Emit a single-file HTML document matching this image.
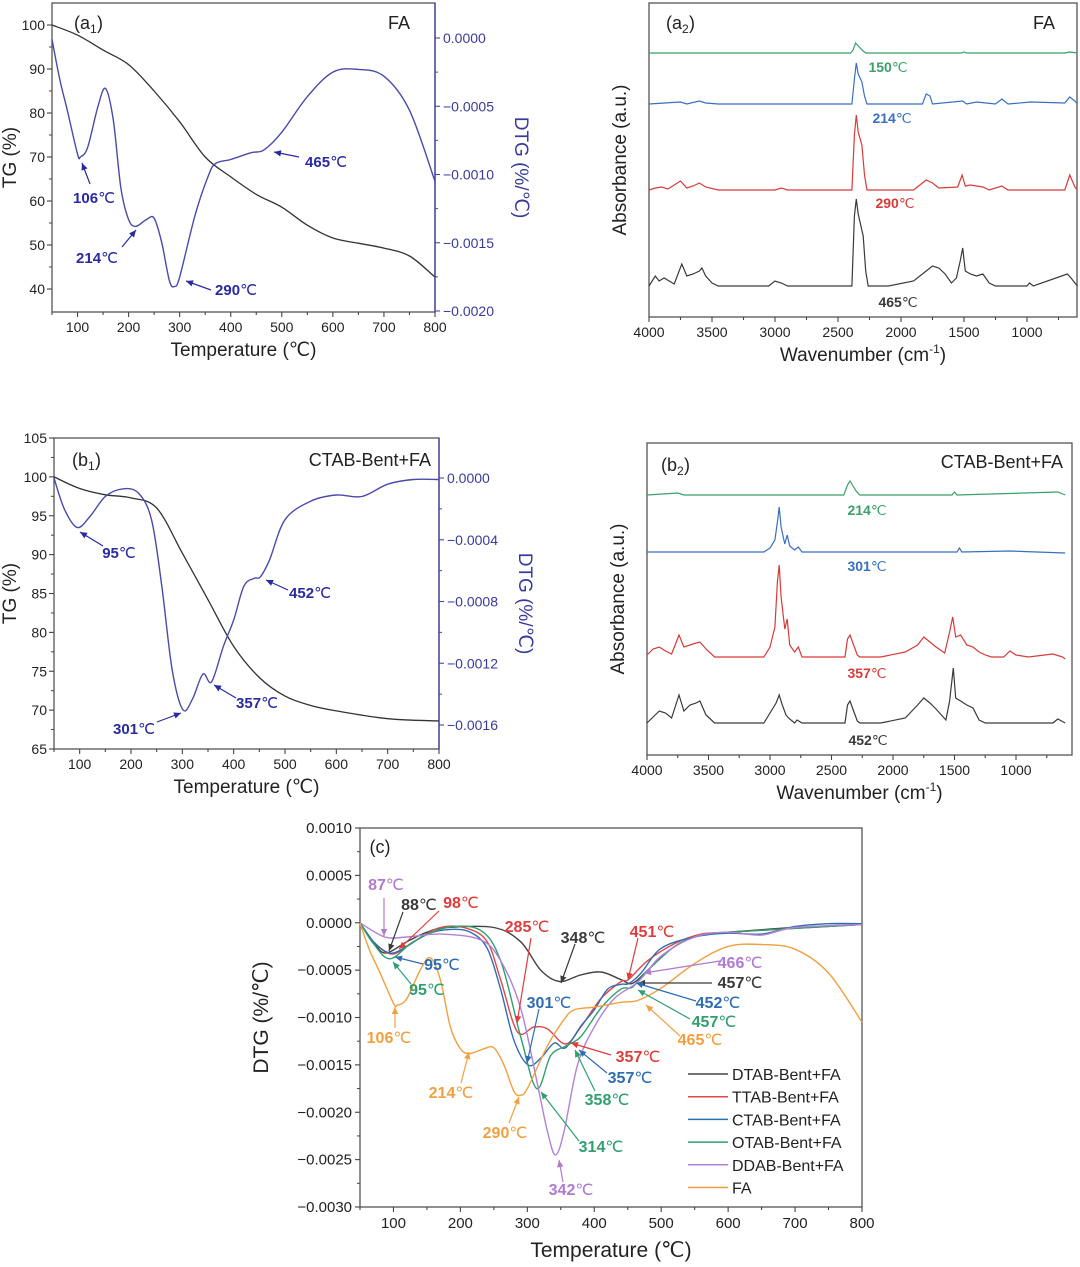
<!DOCTYPE html>
<html><head><meta charset="utf-8">
<style>
html,body{margin:0;padding:0;background:#fff;}
svg{display:block;font-family:"Liberation Sans",sans-serif;}
</style></head>
<body>
<svg id="fig" width="1080" height="1267" viewBox="0 0 1080 1267" xmlns="http://www.w3.org/2000/svg"></svg>
<script>
// ---------- DATA ----------
const a1Temp = [50,100,150,200,250,300,350,400,450,500,550,600,650,700,750,800];
const a1TG   = [100,97.7,94.3,91,85,78,70,65.5,61.5,58.6,54.5,51.6,50.4,49.3,47.5,42.7];
const a1DtgT = [50,65,80,100,106,120,140,155,170,185,200,214,235,250,265,280,290,300,330,355,370,400,440,465,500,550,600,650,700,750,800];
const a1Dtg  = [-0.00001,-0.0003,-0.00053,-0.00085,-0.00087,-0.0008,-0.0005,-0.00037,-0.0006,-0.0011,-0.00133,-0.00138,-0.00133,-0.00132,-0.0015,-0.00178,-0.00182,-0.00175,-0.0013,-0.00102,-0.00092,-0.00089,-0.00084,-0.00082,-0.00069,-0.00043,-0.00025,-0.00023,-0.00028,-0.00053,-0.00105];

const b1Temp = [50,100,150,200,250,300,350,400,450,500,550,600,700,800];
const b1TG   = [100,98.5,97.7,97.3,96,90.2,84.2,78.2,74.2,71.8,70.6,69.9,68.9,68.6];
const b1DtgT = [50,70,95,120,150,185,215,240,260,280,301,320,340,357,380,400,420,440,452,470,500,550,600,650,700,750,800];
const b1Dtg  = [0,-0.0002,-0.00032,-0.00025,-0.00012,-0.00007,-0.0001,-0.00027,-0.0007,-0.00124,-0.0015,-0.00143,-0.00127,-0.00132,-0.00109,-0.00092,-0.0007,-0.00065,-0.00064,-0.00053,-0.00027,-0.00015,-0.00011,-0.00012,-0.00004,-0.00001,-0.00001];

// FTIR spectra: wavenumbers and absorbance (arbitrary units)
const a2Green_w=[4000,3000,2400,2380,2360,2340,2300,2280,1520,1500,1480,700,660,600];
const a2Green_a=[0,0,0,3,10,7,2,0,0,1,0,0,1,0];
const a2Blue_w=[4000,3750,3700,3600,3550,3450,2390,2370,2355,2340,2310,2290,2270,1830,1800,1770,1750,1510,1480,1400,1250,1200,1150,970,700,660,620,600];
const a2Blue_a=[0,2,0,3,1,0,0,25,41,30,22,8,0,0,10,8,0,3,0,2,0,5,0,2,1,7,3,0];
const a2Red_w=[4000,3950,3900,3850,3750,3700,3650,3600,3550,3450,3000,2950,2900,2390,2370,2355,2340,2310,2290,2270,1900,1800,1750,1700,1550,1515,1490,1450,1350,1300,1200,1150,700,660,620,600];
const a2Red_a=[0,2,3,1,9,2,4,7,3,0,0,2,0,0,55,75,58,45,15,0,0,10,7,2,3,15,4,5,3,0,4,0,0,15,3,0];
const a2Black_w=[4000,3950,3920,3880,3800,3740,3700,3650,3600,3580,3550,3500,3450,3050,3000,2950,2900,2390,2370,2355,2340,2300,2280,2260,2100,1900,1800,1750,1700,1650,1600,1560,1530,1510,1490,1450,1400,1350,1300,1250,1000,980,950,680,650,620,600];
const a2Black_a=[0,10,5,8,2,22,10,12,15,18,10,3,0,0,5,3,0,0,70,87,72,50,15,0,0,5,15,20,18,12,3,8,25,38,15,12,10,12,3,0,0,3,0,12,8,3,0];

const b2Green_w=[4000,3750,3700,2400,2370,2350,2330,2300,2270,1520,1500,1480,660,600];
const b2Green_a=[0,2,0,0,10,14,10,4,0,0,3,0,3,0];
const b2Blue_w=[4000,3050,3000,2960,2940,2925,2910,2880,2860,2840,2800,2770,2740,1480,1460,1440,1050,600];
const b2Blue_a=[0,0,4,12,30,45,25,8,17,6,2,5,0,0,4,0,1,-1];
const b2Red_w=[4000,3950,3900,3850,3800,3740,3700,3650,3600,3570,3520,3450,3050,3000,2960,2940,2925,2910,2880,2860,2840,2800,2770,2740,2390,2370,2350,2320,2290,2270,2100,1900,1800,1750,1700,1650,1580,1540,1515,1490,1450,1400,1350,1300,1250,1200,1100,1050,1000,900,700,620,600];
const b2Red_a=[2,8,10,6,3,22,10,12,14,15,8,0,0,10,30,75,92,60,28,38,12,5,10,0,0,18,22,12,2,0,0,5,12,20,15,10,4,25,40,20,22,12,10,5,2,0,0,6,2,0,3,0,-2];
const b2Black_w=[4000,3900,3850,3800,3740,3700,3650,3600,3570,3520,3450,3050,3000,2950,2925,2900,2870,2850,2800,2780,2740,2390,2370,2350,2320,2290,2270,2100,1900,1800,1750,1700,1650,1570,1540,1510,1490,1450,1400,1350,1300,1250,700,660,600];
const b2Black_a=[0,12,10,5,28,12,18,20,22,8,0,0,10,20,28,18,8,5,0,3,0,0,18,22,12,2,0,0,5,18,25,20,14,3,22,55,25,22,18,15,3,0,0,4,0];

// Panel c
const cSeriesNames = ["DTAB-Bent+FA","TTAB-Bent+FA","CTAB-Bent+FA","OTAB-Bent+FA","DDAB-Bent+FA","FA"];
const cDTAB_T=[50,70,88,120,150,180,250,290,320,348,380,410,440,457,480,520,560,600,700,800];
const cDTAB_v=[0,-0.0002,-0.00032,-0.0002,-0.0001,-0.00005,-0.00005,-0.0002,-0.0005,-0.00062,-0.00055,-0.00052,-0.0006,-0.00064,-0.0005,-0.00025,-0.00013,-0.0001,-0.00005,-0.00002];
const cTTAB_T=[50,70,98,130,170,210,240,260,285,310,330,357,380,410,440,451,480,520,560,600,800];
const cTTAB_v=[0,-0.0002,-0.00033,-0.0002,-0.00005,-0.00006,-0.0002,-0.0006,-0.00115,-0.0011,-0.00112,-0.00128,-0.0011,-0.0008,-0.00062,-0.0006,-0.0004,-0.00022,-0.00012,-0.0001,-0.00002];
const cCTAB_T=b1DtgT;
const cCTAB_v=b1Dtg;
const cOTAB_T=[50,70,95,130,180,230,260,290,314,335,358,380,410,440,457,480,520,560,600,800];
const cOTAB_v=[0,-0.00022,-0.00038,-0.0002,-0.00005,-0.00008,-0.0004,-0.0012,-0.00175,-0.0014,-0.0013,-0.0012,-0.0009,-0.0007,-0.00068,-0.0005,-0.00025,-0.00013,-0.0001,-0.00002];
const cDDAB_T=[50,87,120,170,230,260,290,315,330,342,355,375,400,430,466,500,550,600,650,700,800];
const cDDAB_v=[0,-0.00015,-0.00015,-0.00012,-0.00018,-0.0004,-0.0009,-0.0017,-0.0022,-0.00245,-0.0022,-0.0015,-0.0011,-0.0008,-0.00062,-0.00035,-0.00015,-0.0001,-0.00013,-0.00005,-0.00002];
const cFA_T=a1DtgT;
const cFA_v=a1Dtg;
const cColors=["#444444","#e04848","#2f6db3","#2f9f70","#b282d4","#f0a040"];

// ---------- HELPERS ----------
const NS='http://www.w3.org/2000/svg';
const svg=document.getElementById('fig');
function mk(tag,parent){const e=document.createElementNS(NS,tag);parent.appendChild(e);return e;}
function lin(d0,d1,r0,r1){return v=>r0+(v-d0)*(r1-r0)/(d1-d0);}
function smooth(pts){
  let d='M'+pts[0][0].toFixed(1)+','+pts[0][1].toFixed(1);
  for(let i=0;i<pts.length-1;i++){
    const p0=pts[i-1]||pts[i],p1=pts[i],p2=pts[i+1],p3=pts[i+2]||p2;
    const c1=[p1[0]+(p2[0]-p0[0])/6,p1[1]+(p2[1]-p0[1])/6];
    const c2=[p2[0]-(p3[0]-p1[0])/6,p2[1]-(p3[1]-p1[1])/6];
    d+='C'+c1[0].toFixed(1)+','+c1[1].toFixed(1)+' '+c2[0].toFixed(1)+','+c2[1].toFixed(1)+' '+p2[0].toFixed(1)+','+p2[1].toFixed(1);
  }
  return d;
}
function poly(pts){return 'M'+pts.map(p=>p[0].toFixed(1)+','+p[1].toFixed(1)).join('L');}
function txt(parent,x,y,s,size,fill,anchor,weight){
  const t=mk('text',parent);t.setAttribute('x',x);t.setAttribute('y',y);t.setAttribute('font-size',size);
  t.setAttribute('fill',fill||'#222');t.setAttribute('text-anchor',anchor||'middle');
  if(weight)t.setAttribute('font-weight',weight);t.textContent=s;return t;
}
function line(parent,x1,y1,x2,y2,stroke,w){
  const l=mk('line',parent);l.setAttribute('x1',x1);l.setAttribute('y1',y1);l.setAttribute('x2',x2);l.setAttribute('y2',y2);
  l.setAttribute('stroke',stroke||'#333');l.setAttribute('stroke-width',w||1.2);return l;
}
function frame(parent,x0,y0,x1,y1){
  const r=mk('rect',parent);r.setAttribute('x',x0);r.setAttribute('y',y0);r.setAttribute('width',x1-x0);r.setAttribute('height',y1-y0);
  r.setAttribute('fill','none');r.setAttribute('stroke','#555');r.setAttribute('stroke-width',1.3);
  return r;
}
function annot(parent,label,lx,ly,ax1,ay1,ax2,ay2,color,size){
  const g=mk('g',parent);
  
  
  const m=label.match(/^(\d+)(.*)$/);
  const t=mk('text',g);t.setAttribute('x',lx);t.setAttribute('y',ly);t.setAttribute('font-size',size||15);
  t.setAttribute('fill',color);t.setAttribute('text-anchor','middle');
  const s1=mk('tspan',t);s1.setAttribute('font-weight','bold');s1.textContent=m[1];
  const s2=mk('tspan',t);s2.textContent=m[2];
  line(g,ax1,ay1,ax2,ay2,color,1.2);
  const ang=Math.atan2(ay2-ay1,ax2-ax1);
  const h=mk('path',g);
  const L=7,W=3.2;
  const bx=ax2-L*Math.cos(ang),by=ay2-L*Math.sin(ang);
  h.setAttribute('d','M'+ax2+','+ay2+'L'+(bx+W*Math.sin(ang))+','+(by-W*Math.cos(ang))+'L'+(bx-W*Math.sin(ang))+','+(by+W*Math.cos(ang))+'Z');
  h.setAttribute('fill',color);
}
function rot(parent,x,y,s,size,fill,deg){
  const t=txt(parent,x,y,s,size,fill,'middle');t.setAttribute('transform','rotate('+deg+' '+x+' '+y+')');return t;
}

// ---------- TG/DTG panel ----------
function tgPanel(cfg){
  const g=mk('g',svg);
  
  
  const X=lin(50,800,cfg.x0,cfg.x1), YT=lin(cfg.tg0,cfg.tg1,cfg.tgy0,cfg.tgy1), YD=lin(0,cfg.d1,cfg.dy0,cfg.dy1);
  frame(g,cfg.x0,cfg.y0,cfg.x1,cfg.y1);
  // right axis in blue
  line(g,cfg.x1,cfg.y0,cfg.x1,cfg.y1,'#4848a0',1.4);
  // x ticks
  for(let v=50;v<=800;v+=50){const x=X(v);line(g,x,cfg.y1,x,cfg.y1+(v%100?3:5),'#444',1.1);}
  for(let v=100;v<=800;v+=100){const t=txt(g,X(v),cfg.y1+20,String(v),14,'#222');
    }
  const xt=txt(g,(cfg.x0+cfg.x1)/2,cfg.y1+44,'Temperature (℃)',19,'#222');
  
  // left ticks
  for(const v of cfg.tgTicks){const y=YT(v);line(g,cfg.x0-5,y,cfg.x0,y,'#444',1.1);
    const t=txt(g,cfg.x0-7,y+5,String(v),14,'#222','end');
    }
  for(const v of cfg.tgMinor){const y=YT(v);line(g,cfg.x0-3,y,cfg.x0,y,'#444',1);}
  const yt=rot(g,16,(cfg.y0+cfg.y1)/2,'TG (%)',19,'#222',-90);
  
  // right ticks
  for(const v of cfg.dTicks){const y=YD(v);line(g,cfg.x1,y,cfg.x1+5,y,'#4848a0',1.1);
    const t=txt(g,cfg.x1+8,y+5,v===0?(cfg.d1===-0.002?'0.0000':'0.0000'):('\u2212'+Math.abs(v).toFixed(4)),14,'#3a3a9a','start');
    }
  for(const v of cfg.dMinor){const y=YD(v);line(g,cfg.x1,y,cfg.x1+3,y,'#4848a0',1);}
  const dt=rot(g,cfg.x1+80,(cfg.y0+cfg.y1)/2+10,'DTG (%/℃)',19,'#3a3a9a',90);
  
  // curves
  const tg=mk('path',g);tg.setAttribute('d',smooth(cfg.tgT.map((t,i)=>[X(t),YT(cfg.tgV[i])])));
  tg.setAttribute('fill','none');tg.setAttribute('stroke','#333');tg.setAttribute('stroke-width',1.3);
  
  const dc=mk('path',g);dc.setAttribute('d',smooth(cfg.dT.map((t,i)=>[X(t),YD(cfg.dV[i])])));
  dc.setAttribute('fill','none');dc.setAttribute('stroke','#4a4aa8');dc.setAttribute('stroke-width',1.4);
  
  return g;
}

const gA1=tgPanel({name:'panel-a1',x0:52,x1:435,y0:3,y1:312,tg0:40,tg1:100,tgy0:289,tgy1:25,d1:-0.002,dy0:38,dy1:311,
  tgTicks:[40,50,60,70,80,90,100],tgMinor:[45,55,65,75,85,95],dTicks:[0,-0.0005,-0.001,-0.0015,-0.002],dMinor:[-0.00025,-0.00075,-0.00125,-0.00175],
  tgT:a1Temp,tgV:a1TG,dT:a1DtgT,dV:a1Dtg});
txt(gA1,90,29,'(a',18,'#222','end');txt(gA1,90,33,'1',12,'#222','start');txt(gA1,97,29,')',18,'#222','start');
txt(gA1,410,29,'FA',18,'#222','end');
annot(gA1,'106℃',94,203,90,184,82,163,'#2a2aa0');
annot(gA1,'214℃',97,263,122,247,136,230,'#2a2aa0');
annot(gA1,'290℃',236,295,211,290,186,281,'#2a2aa0');
annot(gA1,'465℃',326,167,299,157,274,152,'#2a2aa0');

const gB1=tgPanel({name:'panel-b1',x0:54,x1:439,y0:438,y1:749,tg0:65,tg1:105,tgy0:749,tgy1:438,d1:-0.0016,dy0:478,dy1:725,
  tgTicks:[65,70,75,80,85,90,95,100,105],tgMinor:[67.5,72.5,77.5,82.5,87.5,92.5,97.5,102.5],dTicks:[0,-0.0004,-0.0008,-0.0012,-0.0016],dMinor:[-0.0002,-0.0006,-0.001,-0.0014],
  tgT:b1Temp,tgV:b1TG,dT:b1DtgT,dV:b1Dtg});
txt(gB1,88,466,'(b',18,'#222','end');txt(gB1,88,470,'1',12,'#222','start');txt(gB1,95,466,')',18,'#222','start');
txt(gB1,431,466,'CTAB-Bent+FA',18,'#222','end');
annot(gB1,'95℃',119,558,103,546,80,532,'#2a2aa0');
annot(gB1,'301℃',134,734,157,722,181,713,'#2a2aa0');
annot(gB1,'357℃',257,708,236,698,214,685,'#2a2aa0');
annot(gB1,'452℃',310,598,288,590,266,580,'#2a2aa0');

// ---------- FTIR panel ----------
function irPanel(cfg){
  const g=mk('g',svg);
  
  
  const X=lin(4000,1000,cfg.x0,cfg.x1000);
  frame(g,cfg.x0,cfg.y0,cfg.x1,cfg.y1);
  for(let v=4000;v>=650;v-=250){const x=X(v);line(g,x,cfg.y1,x,cfg.y1+(v%500?3:5),'#444',1.1);}
  for(let v=4000;v>=1000;v-=500){const t=txt(g,X(v),cfg.y1+20,String(v),14,'#222');
    }
  const xt=mk('text',g);xt.setAttribute('x',(cfg.x0+cfg.x1)/2);xt.setAttribute('y',cfg.y1+44);xt.setAttribute('font-size',19);
  xt.setAttribute('text-anchor','middle');xt.setAttribute('fill','#222');
  
  xt.innerHTML='Wavenumber (cm<tspan font-size="12" dy="-8">-1</tspan><tspan dy="8">)</tspan>';
  const yt=rot(g,cfg.x0-23,(cfg.y0+cfg.y1)/2,'Absorbance (a.u.)',19,'#222',-90);
  
  cfg.spectra.forEach(s=>{
    const p=mk('path',g);
    p.setAttribute('d',poly(s.w.map((w,i)=>[X(w),s.base-s.a[i]])));
    p.setAttribute('fill','none');p.setAttribute('stroke',s.color);p.setAttribute('stroke-width',1.2);
    
    
    const t=mk('text',g);t.setAttribute('x',s.lx);t.setAttribute('y',s.ly);t.setAttribute('font-size',14);
    t.setAttribute('fill',s.color);t.setAttribute('text-anchor','middle');
    
    const m=s.label.match(/^(\d+)(.*)$/);
    const a=mk('tspan',t);a.setAttribute('font-weight','bold');a.textContent=m[1];
    const b=mk('tspan',t);b.textContent=m[2];
  });
  return g;
}
const gA2=irPanel({name:'panel-a2',x0:649,x1:1077,x1000:1027,y0:3,y1:317,spectra:[
  {w:a2Green_w,a:a2Green_a,base:53,color:'#3a9f6a',label:'150℃',lx:888,ly:72},
  {w:a2Blue_w,a:a2Blue_a,base:104,color:'#3a6fbf',label:'214℃',lx:892,ly:123},
  {w:a2Red_w,a:a2Red_a,base:190,color:'#d83a3a',label:'290℃',lx:895,ly:208},
  {w:a2Black_w,a:a2Black_a,base:286,color:'#3a3a3a',label:'465℃',lx:898,ly:307}]});
txt(gA2,682,29,'(a',18,'#222','end');txt(gA2,682,33,'2',12,'#222','start');txt(gA2,689,29,')',18,'#222','start');
txt(gA2,1055,29,'FA',18,'#222','end');

const gB2=irPanel({name:'panel-b2',x0:647,x1:1072,x1000:1016,y0:443,y1:755,spectra:[
  {w:b2Green_w,a:b2Green_a,base:495,color:'#3a9f6a',label:'214℃',lx:867,ly:515},
  {w:b2Blue_w,a:b2Blue_a,base:552,color:'#3a6fbf',label:'301℃',lx:867,ly:571},
  {w:b2Red_w,a:b2Red_a,base:657,color:'#d83a3a',label:'357℃',lx:867,ly:678},
  {w:b2Black_w,a:b2Black_a,base:723,color:'#3a3a3a',label:'452℃',lx:868,ly:745}]});
txt(gB2,677,471,'(b',18,'#222','end');txt(gB2,677,475,'2',12,'#222','start');txt(gB2,684,471,')',18,'#222','start');
txt(gB2,1063,468,'CTAB-Bent+FA',18,'#222','end');

// ---------- Panel c ----------
(function(){
  const g=mk('g',svg);
  
  
  const x0=360,x1=862,y0=828,y1=1207;
  const X=lin(50,800,x0,x1),Y=lin(0.001,-0.003,y0,y1);
  frame(g,x0,y0,x1,y1);
  for(let v=50;v<=800;v+=50){const x=X(v);line(g,x,y1,x,y1+(v%100?3:5),'#444',1.1);}
  for(let v=100;v<=800;v+=100){const t=txt(g,X(v),y1+21,String(v),15,'#222');
    }
  const yTicks=[0.001,0.0005,0,-0.0005,-0.001,-0.0015,-0.002,-0.0025,-0.003];
  yTicks.forEach(v=>{const y=Y(v);line(g,x0-5,y,x0,y,'#444',1.1);
    const t=txt(g,x0-8,y+5,(v<0?'\u2212':'')+Math.abs(v).toFixed(4),15,'#222','end');
    
    if(v>-0.003){const ym=Y(v-0.00025);line(g,x0-3,ym,x0,ym,'#444',1);}});
  const xt=txt(g,(x0+x1)/2,y1+50,'Temperature (℃)',21,'#222');
  
  const yt=rot(g,268,(y0+y1)/2,'DTG (%/℃)',21,'#222',-90);
  
  txt(g,380,853,'(c)',18,'#222','middle');
  const series=[[cDTAB_T,cDTAB_v],[cTTAB_T,cTTAB_v],[cCTAB_T,cCTAB_v],[cOTAB_T,cOTAB_v],[cDDAB_T,cDDAB_v],[cFA_T,cFA_v]];
  series.forEach((s,i)=>{
    const p=mk('path',g);
    p.setAttribute('d',smooth(s[0].map((t,j)=>[X(t),Y(s[1][j])])));
    p.setAttribute('fill','none');p.setAttribute('stroke',cColors[i]);p.setAttribute('stroke-width',1.4);
    
    
  });
  // legend
  const lg=mk('g',g);
  
  
  cSeriesNames.forEach((n,i)=>{
    const y=1074+i*22.7;
    const e=mk('g',lg);
    
    
    line(e,688,y,728,y,cColors[i],1.5);
    txt(e,732,y+6,n,16,'#222','start');
  });
  const P='#b07ad0',K='#3a3a3a',R='#e03c3c',B='#2f6db3',G='#2f9f70',O='#f0a040';
  annot(g,'87℃',386,890,384,898,384,936,P,16);
  annot(g,'88℃',419,910,403,912,389,951,K,16);
  annot(g,'98℃',461,908,439,911,399,949,R,16);
  annot(g,'95℃',442,970,423,964,395,957,B,16);
  annot(g,'95℃',427,995,411,984,393,962,G,16);
  annot(g,'106℃',389,1043,395,1028,395,1007,O,16);
  annot(g,'214℃',451,1098,461,1083,469,1052,O,16);
  annot(g,'290℃',505,1138,509,1123,519,1097,O,16);
  annot(g,'285℃',527,932,531,938,517,1023,R,16);
  annot(g,'348℃',583,943,575,944,561,983,K,16);
  annot(g,'301℃',549,1008,539,1009,527,1063,B,16);
  annot(g,'451℃',652,937,638,938,628,980,R,16);
  annot(g,'466℃',740,968,720,961,644,973,P,16);
  annot(g,'457℃',740,988,712,983,638,983,K,16);
  annot(g,'452℃',718,1008,696,1001,636,983,B,16);
  annot(g,'457℃',714,1027,690,1019,638,990,G,16);
  annot(g,'465℃',700,1045,680,1036,646,1005,O,16);
  annot(g,'357℃',638,1062,611,1055,571,1043,R,16);
  annot(g,'357℃',630,1083,607,1073,579,1050,B,16);
  annot(g,'358℃',607,1105,595,1091,575,1050,G,16);
  annot(g,'314℃',601,1152,579,1141,541,1092,G,16);
  annot(g,'342℃',571,1195,563,1182,559,1160,P,16);
})();
</script>
</body></html>
